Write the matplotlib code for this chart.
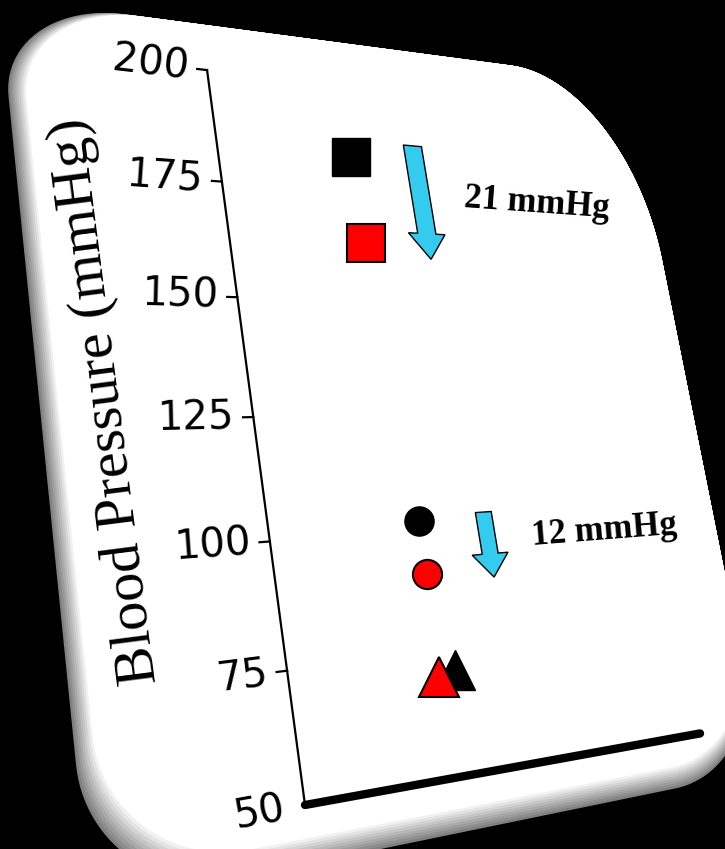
import numpy as np
import matplotlib
matplotlib.use('Agg')
import matplotlib.pyplot as plt
import matplotlib.transforms as mtransforms
from matplotlib.patches import Polygon, FancyArrow

W, H = 725, 849

# values
y_ticks = [50, 75, 100, 125, 150, 175, 200]
shapes = ['s', 'o', '^']
black_vals = [183, 102, 71]
red_vals = [163, 91, 70]
black_x = [0.93, 1.01, 1.10]
red_x = [0.94, 1.01, 0.98]
drops = ['21 mmHg', '12 mmHg']
arrow_x = [1.41, 1.49]
arrow_top = [187, 103]
arrow_tip = [160, 89]


class Persp(mtransforms.Transform):
    # homography from the unit square of the axes onto the tilted card (image pixels)
    input_dims = output_dims = 2

    def __init__(self, M):
        super().__init__()
        self.M = np.asarray(M, float)

    def transform_non_affine(self, values):
        v = np.asarray(values, float).reshape(-1, 2)
        p = np.column_stack([v, np.ones(len(v))]) @ self.M.T
        return p[:, :2] / p[:, 2:3]


# vanishing points and the two axis end points measured on the reference
vp_h = np.array([2750.0, 362.0])
vp_v = np.array([-623.0, -6158.0])
org = np.array([305.0, 805.0])
l1, l2 = 0.1927, 0.118
M = np.array([[vp_h[0] * l1, vp_v[0] * l2, org[0]],
              [vp_h[1] * l1, vp_v[1] * l2, org[1]],
              [l1, l2, 1.0]])

fig = plt.figure(figsize=(W / 100, H / 100), dpi=100, facecolor='black')
ax = fig.add_axes([0, 0, 1, 1])
ax.set_xlim(0, 2.9)
ax.set_ylim(50, 200)
ax.axis('off')

to_fig = mtransforms.Affine2D().scale(1 / W, -1 / H).translate(0, 1) + fig.transFigure
tr = ax.transScale + ax.transLimits + Persp(M) + to_fig


def angle(x, y, dx, dy):
    p = tr.transform([[x, y], [x + dx, y + dy]])
    return np.degrees(np.arctan2(p[1, 1] - p[0, 1], p[1, 0] - p[0, 0]))


# card outline in axes units, one radius pair per corner (tr, tl, bl, br)
def card(u0, u1, v0, v1, radii, n=30):
    pts = []
    centres = [(u1, v1, -1, -1, 0), (u0, v1, 1, -1, 90), (u0, v0, 1, 1, 180), (u1, v0, -1, 1, 270)]
    for (cx, cy, sx, sy, a0), (ru, rv) in zip(centres, radii):
        t = np.radians(np.linspace(a0, a0 + 90, n))
        pts.append(np.column_stack([cx + sx * ru + ru * np.cos(t), cy + sy * rv + rv * np.sin(t)]))
    uv = np.vstack(pts)
    return np.column_stack([uv[:, 0] * 2.9, 50 + uv[:, 1] * 150])

U0, U1, V0, V1 = -0.40, 1.17, -0.045, 1.07
radii = [(0.36, 0.32), (0.26, 0.14), (0.27, 0.16), (0.27, 0.16)]
for k in np.linspace(0, 1, 10):
    g = 0.5 + 0.5 * k
    du, dv = 0.035 * k, 0.03 * k
    ax.add_patch(Polygon(card(U0 - 0.03 + du, U1, V0 - 0.025 + dv, V1, radii),
                         closed=True, fc=(g, g, g), ec='none', transform=tr, clip_on=False))
ax.add_patch(Polygon(card(U0 + 0.01, U1, V0 + 0.01, V1, radii), closed=True,
                     fc='white', ec='none', transform=tr, clip_on=False))

# axes lines
ax.plot([0, 0], [50, 200], color='black', lw=1.6, transform=tr, clip_on=False)
ax.plot([0, 2.9], [50, 50], color='black', lw=6, solid_capstyle='round',
        transform=tr, clip_on=False)
for t in y_ticks:
    if t > 50:
        ax.plot([-0.065, 0], [t, t], color='black', lw=1.6, transform=tr, clip_on=False)
    ax.text(-0.12, t, str(t), fontsize=29, family='DejaVu Sans', ha='right', va='center',
            rotation=angle(-0.12, t, 0.1, 0), rotation_mode='anchor',
            transform=tr, clip_on=False)

ax.text(-0.875, 128.75, 'Blood Pressure (mmHg)', fontsize=42, family='Liberation Serif',
        ha='center', va='center', rotation=angle(-0.875, 128.75, 0, 5) + 1,
        rotation_mode='anchor', transform=tr, clip_on=False)

# data markers
for m, xb, yb, xr, yr in zip(shapes, black_x, black_vals, red_x, red_vals):
    ms = {'s': 27, 'o': 21, '^': 29}[m]
    ax.plot([xb], [yb], m, ms=ms, mfc='black', mec='black', mew=1, transform=tr, clip_on=False)
    ax.plot([xr], [yr], m, ms=ms, mfc='#ff0000', mec='black', mew=1.5, transform=tr, clip_on=False)

# drop arrows and labels
for ax_x, top, tip, w, hw, hl in zip(arrow_x, arrow_top, arrow_tip,
                                     [0.14, 0.12], [0.28, 0.27], [6.0, 5.0]):
    ax.add_patch(FancyArrow(ax_x, top, 0, tip - top, width=w, head_width=hw, head_length=hl,
                            length_includes_head=True, fc='#33CCEE', ec='black', lw=1,
                            transform=tr, clip_on=False))

for (tx, ty), s in zip([(1.75, 175), (1.83, 97)], drops):
    ax.text(tx, ty, s, fontsize=25, family='Liberation Serif', fontweight='bold',
            ha='left', va='center', rotation=angle(tx, ty, 0.1, 0), rotation_mode='anchor',
            transform=tr, clip_on=False)

fig.savefig('out.png', dpi=100, facecolor='black')
